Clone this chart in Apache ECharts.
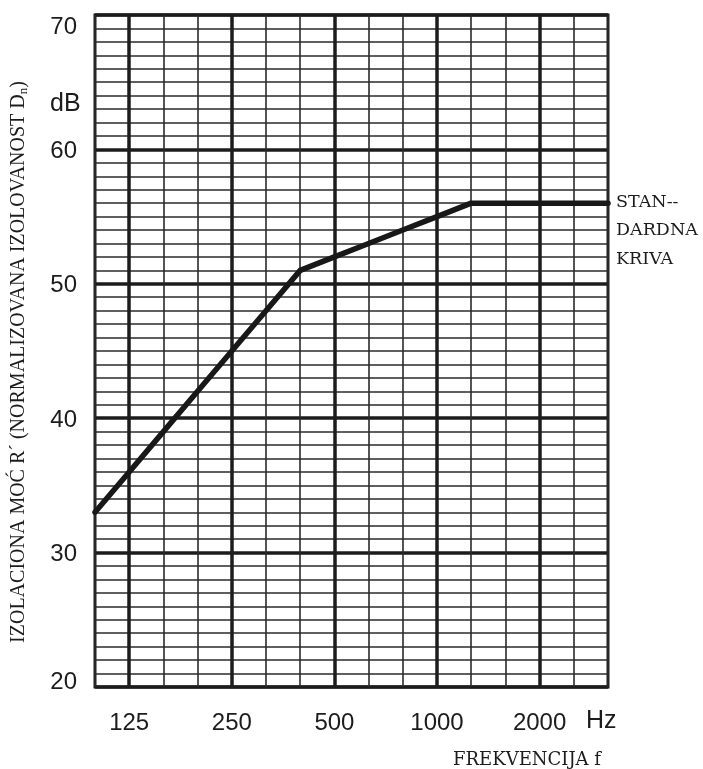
<!DOCTYPE html>
<html>
<head>
<meta charset="utf-8">
<script src="https://cdn.jsdelivr.net/npm/echarts@6/dist/echarts.min.js"></script>
<style>html,body{margin:0;padding:0;background:#fff}#c{width:703px;height:769px}</style>
</head>
<body>
<div id="c"></div>
<script>
var bands = ['100','125','160','200','250','315','400','500','630','800','1000','1250','1600','2000','2500','3150'];
var standardCurve = [33,36,39,42,45,48,51,52,53,54,55,56,56,56,56,56];
var octaveLabels = ['125','250','500','1000','2000'];
var yTickLabels = [20,30,40,50,60,70];
var yTitle = 'IZOLACIONA MOĆ R´ (NORMALIZOVANA IZOLOVANOST D';
var xTitle = 'FREKVENCIJA f';
var curveLabel = ['STAN--','DARDNA','KRIVA'];

var ink = '#1c1c1c';
var numFont = '"Liberation Sans Narrow", "Liberation Sans", sans-serif';
var chart = echarts.init(document.getElementById('c'), null, {renderer:'canvas'});
var isOctave = function(i){ return octaveLabels.indexOf(bands[i]) >= 0; };
chart.setOption({
  animation:false,
  backgroundColor:'#fff',
  grid:{left:95,right:95,top:15,bottom:82,show:true,borderColor:ink,borderWidth:3,backgroundColor:'transparent'},
  xAxis:[{
    type:'category', data:bands, boundaryGap:false, position:'bottom',
    axisLine:{show:false}, axisTick:{show:false},
    splitLine:{show:true, interval:0, lineStyle:{color:'#2a2a2a', width:1.6}},
    axisLabel:{
      interval:function(i){ return isOctave(i); },
      margin:24, fontFamily:numFont, fontSize:24, color:ink
    }
  },{
    type:'category', data:bands, boundaryGap:false, position:'bottom',
    axisLine:{show:false}, axisTick:{show:false}, axisLabel:{show:false},
    splitLine:{show:true, interval:function(i){ return isOctave(i); }, lineStyle:{color:ink, width:3.5}}
  }],
  yAxis:[{
    type:'value', min:20, max:70, interval:1, position:'left',
    axisLine:{show:false}, axisTick:{show:false}, axisLabel:{show:false},
    splitLine:{show:true, lineStyle:{color:'#2a2a2a', width:1.6}}
  },{
    type:'value', min:20, max:70, interval:10, position:'left',
    axisLine:{show:false}, axisTick:{show:false},
    splitLine:{show:true, lineStyle:{color:ink, width:3.5}},
    axisLabel:{
      margin:18, color:ink,
      formatter:function(v){
        if (yTickLabels.indexOf(v) < 0) return '';
        if (v === 70) return '{t|' + v + '}';
        if (v === 20) return '{b|' + v + '}';
        return '{n|' + v + '}';
      },
      rich:{
        t:{fontFamily:numFont, fontSize:24, color:ink, padding:[24,0,0,0]},
        b:{fontFamily:numFont, fontSize:24, color:ink, padding:[0,0,10,0]},
        n:{fontFamily:numFont, fontSize:24, color:ink, padding:[4,0,0,0]}
      }
    }
  }],
  series:[{
    type:'line', xAxisIndex:0, yAxisIndex:0, data:standardCurve,
    showSymbol:false, symbol:'none',
    lineStyle:{color:'#181818', width:5.5, join:'round', cap:'round'}, z:5
  }],
  graphic:[
    {type:'text', left:50, top:92, style:{text:'dB', fontFamily:numFont, fontSize:25, fill:ink}},
    {type:'text', left:586, top:709, style:{text:'Hz', fontFamily:numFont, fontSize:25, fill:ink}},
    {type:'text', left:453, top:751, style:{text:xTitle, fontFamily:'DejaVu Serif', fontSize:18, fill:ink}},
    {type:'text', left:616, top:188, style:{text:curveLabel.join('\n'), fontFamily:'DejaVu Serif', fontSize:17.5, lineHeight:28.5, fill:ink}},
    {type:'text', x:19, y:362, rotation:Math.PI/2,
      style:{text:'{m|' + yTitle + '}{s|n}{m|)}', align:'center', verticalAlign:'middle',
        rich:{
          m:{fontFamily:'Liberation Serif', fontSize:20, fill:ink, color:ink},
          s:{fontFamily:'Liberation Serif', fontSize:13, fill:ink, color:ink, padding:[10,0,0,0]}
        }}}
  ]
});
</script>
</body>
</html>
